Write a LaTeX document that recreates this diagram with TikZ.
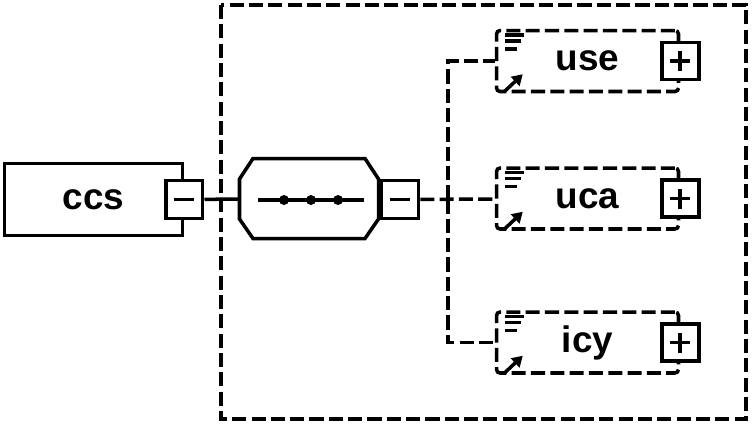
\documentclass[tikz,border=0pt]{standalone}
\usepackage{fontspec}
\setsansfont{Liberation Sans}
\usetikzlibrary{arrows.meta,positioning}

\begin{document}
\begin{tikzpicture}[
  x=0.02cm, y=-0.02cm,
  line width=2pt,
  dsh/.style={dash pattern=on 8pt off 3pt},
  lbl/.style={font=\sffamily\bfseries\fontsize{21}{24}\selectfont},
  elem/.style={rectangle, draw, dsh, rounded corners=2pt,
               minimum width=3.64cm, minimum height=1.22cm, lbl},
  root/.style={rectangle, draw, fill=white,
               minimum width=3.56cm, minimum height=1.44cm, lbl},
  sq/.style={rectangle, draw, fill=white, inner sep=0pt,
             minimum width=0.74cm, minimum height=0.76cm},
  seqbox/.style={rectangle, inner sep=0pt,
                 minimum width=2.78cm, minimum height=1.6cm}
]
  \useasboundingbox (0,0) rectangle (753,427);
  % content model frame
  \draw[dsh] (221,5) rectangle (746,419);

  \node[root] (ccs) at (93.5,199.5) {ccs\hspace{1.1cm}};
  \node[sq] (ccsM) at (ccs.east) {};
  \draw (ccsM.center) ++(-0.2cm,0) -- ++(0.4cm,0);

  % sequence compositor
  \node[seqbox] (seq) at (309,198.5) {};
  \draw (253,158.5) -- (365,158.5) -- (378.5,179) -- (378.5,219)
        -- (365,238.5) -- (253,238.5) -- (239.5,219) -- (239.5,179) -- cycle;
  \draw (258,200) -- (364,200);
  \foreach \x in {284,311,338} \fill (\x,200) circle (0.1cm);
  \node[sq] (seqM) at (400,199.5) {};
  \draw (seqM.center) ++(-0.2cm,0) -- ++(0.4cm,0);

  \node[elem] (use) at (587.5,61)    {use};
  \node[elem] (uca) at (587.5,198.5) {uca};
  \node[elem] (icy) at (587.5,342.5) {icy};
  \node[sq, minimum height=0.74cm] (useP) at (use.east) {};
  \node[sq, minimum height=0.74cm] (ucaP) at (uca.east) {};
  \node[sq, minimum height=0.74cm] (icyP) at (icy.east) {};
  \foreach \p in {useP,ucaP,icyP}{
    \draw (\p.center) ++(-0.2cm,0) -- ++(0.4cm,0);
    \draw (\p.center) ++(0,-0.2cm) -- ++(0,0.4cm);
  }
  % element icons
  \foreach \e in {use,uca,icy}{
    \draw[line width=2pt] (\e.north west) ++(10,6)  -- ++(19,0)
                          (\e.north west) ++(10,12) -- ++(16,0)
                          (\e.north west) ++(10,20) -- ++(12,0);
    \draw[line width=2pt, -{Triangle[length=6pt,width=7pt]}]
      (\e.south west) ++(10,-2) -- ++(18,-17);
  }

  \draw (ccsM) -- (seq);
  \coordinate (fork) at (448,199.5);
  \draw[dsh] (seqM) -- (uca);
  \draw[dsh] (fork) |- (use);
  \draw[dsh] (fork) |- (icy);
\end{tikzpicture}
\end{document}
